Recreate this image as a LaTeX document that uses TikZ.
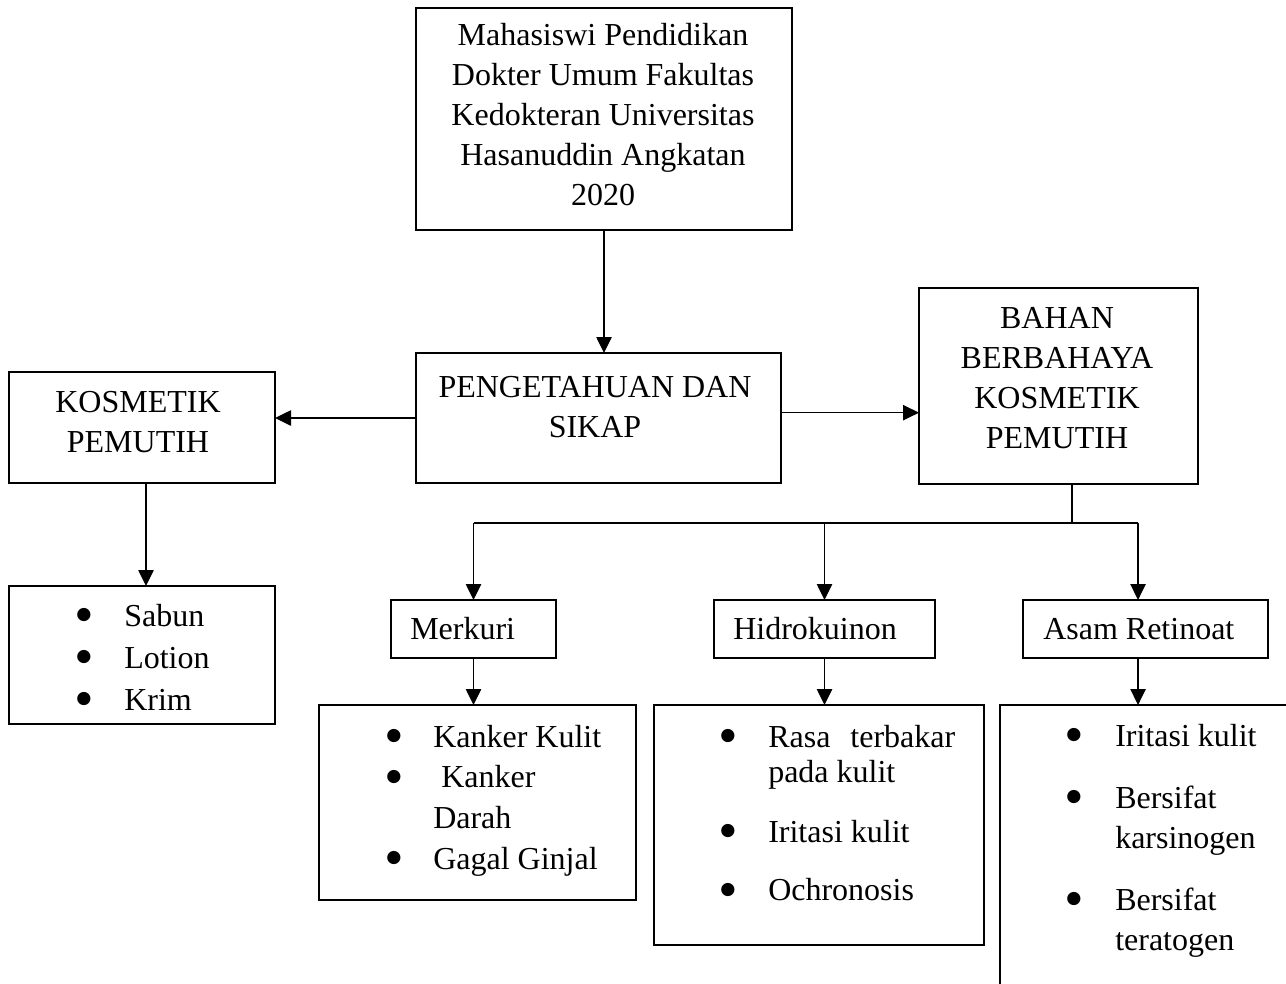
\documentclass[tikz,border=0pt]{standalone}
\usepackage{fontspec}
\setmainfont{Liberation Serif}
\newfontfamily\dotfont{DejaVu Sans}
\usetikzlibrary{arrows.meta}
\newlength\pxu
\setlength\pxu{0.75pt}
\newcommand\bigdot{\raisebox{5pt}{\dotfont\fontsize{13}{13}\selectfont ●}}

\begin{document}
\begin{tikzpicture}[
    x=0.75pt, y=-0.75pt,
    box/.style={draw, line width=1.6pt, anchor=north west, inner sep=0pt, outer sep=0pt},
    caption/.style={anchor=base, inner sep=0pt, font=\fontsize{24}{30}\selectfont},
    itemlist/.style={anchor=base west, inner sep=0pt, font=\fontsize{24}{30}\selectfont},
    arrow/.style={line width=1.1pt, -{Triangle[length=12pt,width=11.5pt]}},
    link/.style={line width=1.3pt}
  ]
    \useasboundingbox (0,0) rectangle (1286,983);
    \clip (0,0) rectangle (1286,983);

    % Top row
    \node[box, minimum width=376\pxu, minimum height=222\pxu] (top) at (416,8) {};
    \node[caption] (top-text) at (603,45) {\begin{tabular}[t]{@{}c@{}}Mahasiswi Pendidikan\\Dokter Umum Fakultas\\Kedokteran Universitas\\Hasanuddin Angkatan\\2020\end{tabular}};

    % Middle row
    \node[box, minimum width=365\pxu, minimum height=130\pxu] (peng) at (416,353) {};
    \node[caption] (peng-text) at (595,397) {\begin{tabular}[t]{@{}c@{}}PENGETAHUAN DAN\\SIKAP\end{tabular}};

    \node[box, minimum width=266\pxu, minimum height=111\pxu] (kosm) at (9,372) {};
    \node[caption] (kosm-text) at (138,412) {\begin{tabular}[t]{@{}c@{}}KOSMETIK\\PEMUTIH\end{tabular}};

    \node[box, minimum width=279\pxu, minimum height=196\pxu] (bahan) at (919,288) {};
    \node[caption] (bahan-text) at (1057,328) {\begin{tabular}[t]{@{}c@{}}BAHAN\\BERBAHAYA\\KOSMETIK\\PEMUTIH\end{tabular}};

    % Kinds of cosmetics
    \node[box, minimum width=266\pxu, minimum height=138\pxu] (sabun) at (9,586) {};
    \node[itemlist] (sabun-list) at (76,626) {\begin{tabular}[t]{@{}p{36pt}@{}l@{}}
        \bigdot & Sabun\\[1.5pt]
        \bigdot & Lotion\\[1.5pt]
        \bigdot & Krim
      \end{tabular}};

    % Hazardous substances
    \node[box, minimum width=165\pxu, minimum height=58\pxu] (merk) at (391,600) {};
    \node[itemlist] (merk-text) at (410,639) {Merkuri};
    \node[box, minimum width=221\pxu, minimum height=58\pxu] (hidro) at (714,600) {};
    \node[itemlist] (hidro-text) at (733,639) {Hidrokuinon};
    \node[box, minimum width=245\pxu, minimum height=58\pxu] (asam) at (1023,600) {};
    \node[itemlist] (asam-text) at (1043,639) {Asam Retinoat};

    % Effects
    \node[box, minimum width=317\pxu, minimum height=195\pxu] (kanker) at (319,705) {};
    \node[itemlist] (kanker-list) at (386,747) {\begin{tabular}[t]{@{}p{35.25pt}@{}l@{}}
        \bigdot & Kanker Kulit\\[0.5pt]
        \bigdot & \ Kanker\\[0.5pt]
                & Darah\\[0.5pt]
        \bigdot & Gagal Ginjal
      \end{tabular}};

    \node[box, minimum width=330\pxu, minimum height=240\pxu] (rasa) at (654,705) {};
    \node[itemlist] (rasa-list) at (720,747) {\begin{tabular}[t]{@{}p{36pt}@{}l@{}}
        \bigdot & Rasa\hspace{15pt}terbakar\\[-3.75pt]
                & pada kulit\\[15pt]
        \bigdot & Iritasi kulit\\[14pt]
        \bigdot & Ochronosis
      \end{tabular}};

    \node[box, minimum width=320\pxu, minimum height=320\pxu] (irit) at (1000,705) {};
    \node[itemlist] (irit-list) at (1066,746) {\begin{tabular}[t]{@{}p{36.75pt}@{}l@{}}
        \bigdot & Iritasi kulit\\[16.5pt]
        \bigdot & Bersifat\\
                & karsinogen\\[16.5pt]
        \bigdot & Bersifat\\
                & teratogen
      \end{tabular}};

    % Connectors
    \draw[arrow] (top.south) -- (top.south |- peng.north);
    \draw[arrow] (peng.west) -- (peng.west -| kosm.east);
    \draw[arrow] ([yshift=4pt]peng.east) -- ([yshift=4pt]peng.east -| bahan.west);
    \draw[arrow] ([xshift=3pt]kosm.south) -- ([xshift=3pt]kosm.south |- sabun.north);

    \coordinate (fork) at (1072,523);
    \coordinate (asam-in) at ([xshift=-5.6pt]asam.north);
    \coordinate (asam-out) at ([xshift=-5.6pt]asam.south);
    \draw[link] (bahan.south -| fork) -- (fork);
    \draw[link] (merk.north |- fork) -- (asam-in |- fork);
    \draw[arrow] (merk.north |- fork) -- (merk.north);
    \draw[arrow] (hidro.north |- fork) -- (hidro.north);
    \draw[arrow] (asam-in |- fork) -- (asam-in);

    \draw[arrow] (merk.south) -- (merk.south |- kanker.north);
    \draw[arrow] (hidro.south) -- (hidro.south |- rasa.north);
    \draw[arrow] (asam-out) -- (asam-out |- irit.north);
\end{tikzpicture}
\end{document}
